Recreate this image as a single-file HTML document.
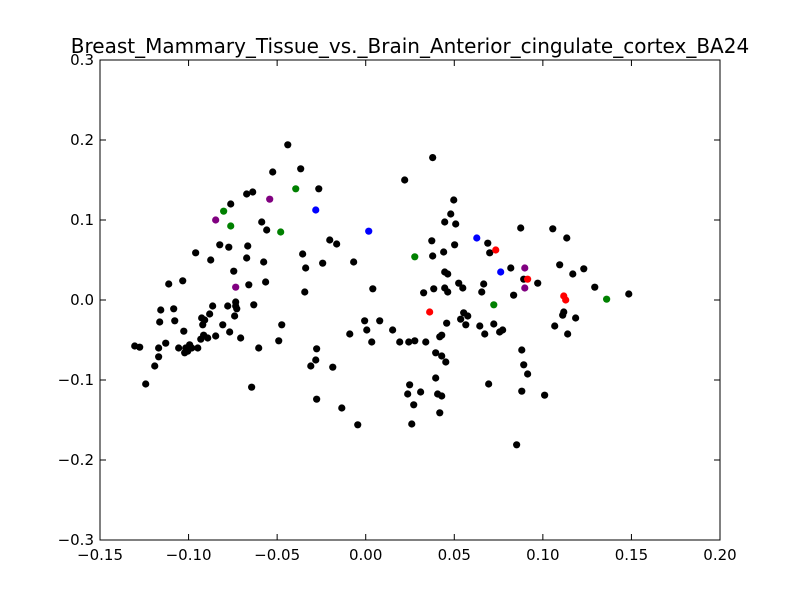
<!DOCTYPE html>
<html><head><meta charset="utf-8"><style>
body{margin:0;background:#fff;}
svg{display:block;font-family:"DejaVu Sans","Liberation Sans",sans-serif;}
</style></head><body>
<svg id="chart" width="800" height="600">
<rect width="800" height="600" fill="#fff"/>
<text x="410" y="53" text-anchor="middle" font-size="20">Breast_Mammary_Tissue_vs._Brain_Anterior_cingulate_cortex_BA24</text>
<g id="marks"></g>
<g id="axes"></g>
</svg>
<script>
const xTicks=[-0.15,-0.10,-0.05,0.00,0.05,0.10,0.15,0.20];
const xTickLabels=["\u22120.15","\u22120.10","\u22120.05","0.00","0.05","0.10","0.15","0.20"];
const yTicks=[-0.3,-0.2,-0.1,0.0,0.1,0.2,0.3];
const yTickLabels=["\u22120.3","\u22120.2","\u22120.1","0.0","0.1","0.2","0.3"];
const blackX=[-0.1304,-0.1276,-0.1242,-0.1191,-0.1169,-0.1169,-0.1157,-0.1163,-0.1129,-0.1112,-0.1084,-0.1078,-0.1056,-0.1033,-0.1027,-0.1022,-0.1016,-0.1005,-0.0994,-0.0982,-0.096,-0.0948,-0.0931,-0.092,-0.0926,-0.0915,-0.0909,-0.0892,-0.0881,-0.0875,-0.0864,-0.0847,-0.0824,-0.0807,-0.0779,-0.0773,-0.0768,-0.0762,-0.0745,-0.0734,-0.0734,-0.0728,-0.074,-0.0706,-0.0672,-0.0672,-0.0666,-0.066,-0.0644,-0.0638,-0.0632,-0.0604,-0.0587,-0.0576,-0.0565,-0.0559,-0.0525,-0.0491,-0.0474,-0.044,-0.0367,-0.0356,-0.0344,-0.0339,-0.031,-0.0282,-0.0277,-0.0277,-0.0265,-0.0243,-0.0203,-0.0186,-0.0164,-0.0135,-0.009,-0.0068,-0.0045,-0.0006,0.0006,0.0034,0.004,0.0079,0.0152,0.0192,0.022,0.0378,0.0243,0.0237,0.0248,0.026,0.0277,0.0271,0.031,0.0327,0.0339,0.0373,0.0378,0.0384,0.0395,0.0395,0.0406,0.0418,0.0418,0.0429,0.0429,0.0429,0.044,0.0446,0.0446,0.0446,0.0452,0.0457,0.0463,0.0463,0.048,0.0497,0.0502,0.0508,0.0525,0.0536,0.0548,0.0553,0.0565,0.0576,0.0644,0.0655,0.0666,0.0672,0.0689,0.0694,0.07,0.0723,0.0756,0.0773,0.0819,0.0835,0.0852,0.0875,0.0881,0.0892,0.0914,0.0881,0.0892,0.0971,0.101,0.1056,0.1067,0.1095,0.1112,0.1118,0.1135,0.114,0.1169,0.1185,0.1231,0.1293,0.1485];
const blackY=[-0.0575,-0.059,-0.105,-0.0825,-0.071,-0.06,-0.0125,-0.0275,-0.054,0.02,-0.011,-0.026,-0.06,0.024,-0.039,-0.066,-0.06,-0.064,-0.056,-0.06,0.059,-0.06,-0.049,-0.031,-0.0225,-0.044,-0.025,-0.0475,-0.0175,0.05,-0.0075,-0.045,0.069,-0.031,-0.0075,0.066,-0.04,0.12,0.036,-0.0025,-0.0075,-0.011,-0.02,-0.0475,0.1325,0.0525,0.0675,0.019,-0.109,0.135,-0.006,-0.06,0.0975,0.0475,0.0225,0.0875,0.16,-0.051,-0.031,0.194,0.164,0.0575,0.01,0.04,-0.0825,-0.075,-0.061,-0.124,0.139,0.046,0.075,-0.084,0.07,-0.135,-0.0425,0.0475,-0.156,-0.026,-0.0375,-0.0525,0.014,-0.026,-0.0375,-0.0525,0.15,0.178,-0.0525,-0.1175,-0.106,-0.155,-0.051,-0.131,-0.115,0.009,-0.0525,0.074,0.055,0.014,-0.0975,-0.066,-0.1175,-0.141,-0.046,-0.044,-0.07,-0.12,0.06,0.015,0.035,0.0975,-0.0775,-0.029,0.0325,0.01,0.1075,0.125,0.069,0.095,0.021,-0.024,0.015,-0.016,-0.031,-0.02,-0.0325,0.01,0.02,-0.0425,0.071,-0.105,0.059,-0.03,-0.04,-0.0375,0.04,0.006,-0.181,0.09,-0.0625,-0.081,-0.0925,-0.114,0.026,0.021,-0.119,0.089,-0.0325,0.044,-0.019,-0.015,0.0775,-0.0425,0.0325,-0.0225,0.039,0.016,0.0075];
const greenX=[-0.0802,-0.0762,-0.048,-0.0395,0.0277,0.0723,0.136];
const greenY=[0.111,0.0925,0.085,0.139,0.054,-0.006,0.001];
const purpleX=[-0.0847,-0.0734,-0.0542,0.0898,0.0898];
const purpleY=[0.1,0.016,0.126,0.04,0.015];
const blueX=[-0.0282,0.0017,0.0627,0.0762];
const blueY=[0.1125,0.086,0.0775,0.035];
const redX=[0.0361,0.0734,0.0914,0.1118,0.1129];
const redY=[-0.015,0.0625,0.026,0.005,0.0];

const NS="http://www.w3.org/2000/svg";
const L=100,R=720,T=60,B=540;
const xMin=-0.15,xMax=0.20,yMin=-0.3,yMax=0.3;
function sx(v){return L+(v-xMin)/(xMax-xMin)*(R-L);}
function sy(v){return B-(v-yMin)/(yMax-yMin)*(B-T);}
function mk(tag,attrs){const e=document.createElementNS(NS,tag);for(const k in attrs)e.setAttribute(k,attrs[k]);return e;}
const marks=document.getElementById('marks');
function drawSeries(xs,ys,color,name){
  for(let i=0;i<xs.length;i++){
    const c=mk('circle',{cx:sx(xs[i]),cy:sy(ys[i]),r:3.6,fill:color});
    
    
    marks.appendChild(c);
  }
}
drawSeries(blackX,blackY,'#000000','black');
drawSeries(greenX,greenY,'#008000','green');
drawSeries(purpleX,purpleY,'#800080','purple');
drawSeries(blueX,blueY,'#0000ff','blue');
drawSeries(redX,redY,'#ff0000','red');

const axes=document.getElementById('axes');
const frame=mk('rect',{x:L,y:T,width:R-L,height:B-T,fill:'none',stroke:'#000','stroke-width':1});


axes.appendChild(frame);
xTicks.forEach((v,i)=>{
  const x=sx(v);
  axes.appendChild(mk('line',{x1:x,x2:x,y1:B,y2:B-6,stroke:'#000'}));
  axes.appendChild(mk('line',{x1:x,x2:x,y1:T,y2:T+6,stroke:'#000'}));
  const t=mk('text',{x:x,y:B+20,'text-anchor':'middle','font-size':15});
  t.textContent=xTickLabels[i];
  
  
  axes.appendChild(t);
});
yTicks.forEach((v,i)=>{
  const y=sy(v);
  axes.appendChild(mk('line',{x1:L,x2:L+6,y1:y,y2:y,stroke:'#000'}));
  axes.appendChild(mk('line',{x1:R,x2:R-6,y1:y,y2:y,stroke:'#000'}));
  const t=mk('text',{x:L-6,y:y+5,'text-anchor':'end','font-size':15});
  t.textContent=yTickLabels[i];
  
  
  axes.appendChild(t);
});
</script>
</body></html>
